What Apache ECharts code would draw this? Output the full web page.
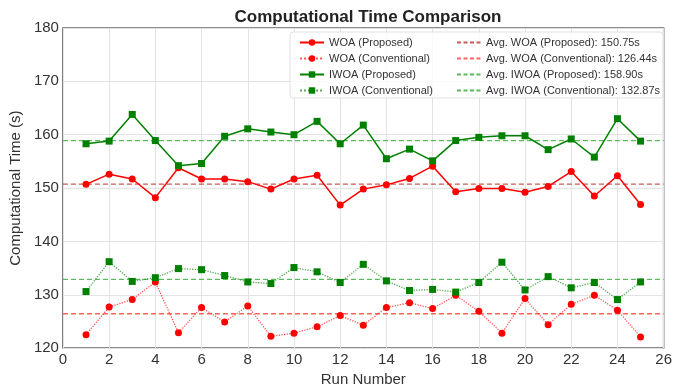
<!DOCTYPE html>
<html>
<head>
<meta charset="utf-8">
<script src="https://cdn.jsdelivr.net/npm/echarts@6/dist/echarts.min.js"></script>
<style>
html, body { margin: 0; padding: 0; background: #fff; }
#chart { width: 675px; height: 392px; }
</style>
</head>
<body>
<div id="chart"></div>
<script>
var runs = [1, 2, 3, 4, 5, 6, 7, 8, 9, 10, 11, 12, 13, 14, 15, 16, 17, 18, 19, 20, 21, 22, 23, 24, 25];

var woaProposed = [150.7, 152.6, 151.7, 148.2, 153.8, 151.7, 151.7, 151.2, 149.8, 151.7, 152.4, 146.8, 149.8,
	150.6, 151.8, 154.1, 149.3, 149.9, 149.9, 149.2, 150.3, 153.1, 148.5, 152.3, 146.9];
var woaConventional = [122.5, 127.7, 129.1, 132.4, 122.9, 127.6, 124.9, 127.9, 122.2, 122.8, 124.0, 126.1, 124.3,
	127.6, 128.5, 127.4, 129.9, 126.9, 122.8, 129.3, 124.4, 128.2, 129.9, 127.1, 122.1];
var iwoaProposed = [158.3, 158.8, 163.8, 158.9, 154.2, 154.6, 159.7, 161.1, 160.5, 160.0, 162.5, 158.3, 161.8,
	155.5, 157.3, 155.1, 158.9, 159.5, 159.8, 159.8, 157.2, 159.2, 155.8, 163.0, 158.8];
var iwoaConventional = [130.6, 136.2, 132.5, 133.2, 134.9, 134.7, 133.6, 132.4, 132.1, 135.1, 134.3, 132.3, 135.7,
	132.6, 130.8, 131.0, 130.5, 132.3, 136.1, 130.9, 133.4, 131.3, 132.3, 129.1, 132.4];

var seriesNames = ['WOA (Proposed)', 'WOA (Conventional)', 'IWOA (Proposed)', 'IWOA (Conventional)'];
var averages = [150.75, 126.44, 158.90, 132.87];
var xRange = [0, 26];

var font = "'Liberation Sans', Arial, sans-serif";

function pairs(values) {
	return runs.map(function (r, i) { return [r, values[i]]; });
}

var avgNames = seriesNames.map(function (n, i) {
	return 'Avg. ' + n + ': ' + averages[i].toFixed(2) + 's';
});

function runSeries(name, values, color, symbol, dotted) {
	return {
		name: name,
		type: 'line',
		data: pairs(values),
		symbol: symbol,
		symbolSize: 7,
		z: 5,
		itemStyle: { color: color },
		lineStyle: { color: color, width: dotted ? 1.3 : 1.5, type: dotted ? 'dotted' : 'solid', opacity: dotted ? 0.65 : 1 },
		emphasis: { disabled: true },
		animation: false
	};
}

// horizontal average line across the whole x range
function avgSeries(name, value, color) {
	return {
		name: name,
		type: 'line',
		data: [[xRange[0], value], [xRange[1], value]],
		symbol: 'none',
		showSymbol: false,
		z: 3,
		itemStyle: { color: color },
		lineStyle: { color: color, width: 1.3, type: [5, 3] },
		emphasis: { disabled: true },
		silent: true,
		animation: false
	};
}

var legendText = { fontFamily: font, fontSize: 11, color: '#333' };

var option = {
	backgroundColor: '#fff',
	animation: false,
	title: {
		text: 'Computational Time Comparison',
		left: 363, textAlign: 'center',
		top: 4,
		textStyle: { fontFamily: font, fontSize: 17, fontWeight: 'bold', color: '#222' }
	},
	grid: {
		left: 60, right: 8, top: 28, bottom: 38,
		show: true, borderColor: '#666', borderWidth: 1.5
	},
	graphic: [{
		type: 'rect',
		z: 3,
		shape: { x: 290, y: 32, width: 373, height: 66, r: 3 },
		style: { fill: 'rgba(255,255,255,0.8)', stroke: '#e0e0e0', lineWidth: 1 }
	}],
	legend: [
		{
			orient: 'vertical', left: 294, top: 32,
			itemWidth: 24, itemHeight: 8, itemGap: 5,
			textStyle: legendText,
			data: seriesNames
		},
		{
			orient: 'vertical', left: 451, top: 32,
			itemWidth: 24, itemHeight: 8, itemGap: 5,
			textStyle: legendText,
			data: avgNames.map(function (n) {
				return { name: n, itemStyle: { opacity: 0 }, lineStyle: { type: [4, 2.5] } };
			})
		}
	],
	xAxis: {
		type: 'value',
		min: xRange[0], max: xRange[1], interval: 2,
		name: 'Run Number',
		nameLocation: 'middle', nameGap: 23,
		nameTextStyle: { fontFamily: font, fontSize: 15, color: '#333' },
		axisLine: { show: false },
		axisTick: { show: false },
		axisLabel: { fontFamily: font, fontSize: 15, color: '#333', margin: 4 },
		splitLine: { show: true, lineStyle: { color: '#e3e3e3', width: 1 } }
	},
	yAxis: {
		type: 'value',
		min: 120, max: 180, interval: 10,
		name: 'Computational Time (s)',
		nameLocation: 'middle', nameGap: 34,
		nameTextStyle: { fontFamily: font, fontSize: 15, color: '#333' },
		axisLine: { show: false },
		axisTick: { show: false },
		axisLabel: { fontFamily: font, fontSize: 15, color: '#333', margin: 4 },
		splitLine: { show: true, lineStyle: { color: '#e3e3e3', width: 1 } }
	},
	series: [
		runSeries(seriesNames[0], woaProposed, '#ff0000', 'circle', false),
		runSeries(seriesNames[1], woaConventional, '#ff0000', 'circle', true),
		runSeries(seriesNames[2], iwoaProposed, '#008000', 'rect', false),
		runSeries(seriesNames[3], iwoaConventional, '#008000', 'rect', true),
		avgSeries(avgNames[0], averages[0], '#c85a5a'),
		avgSeries(avgNames[1], averages[1], '#ff6262'),
		avgSeries(avgNames[2], averages[2], '#5cb85c'),
		avgSeries(avgNames[3], averages[3], '#5cb85c')
	]
};

var myChart = echarts.init(document.getElementById('chart'), null, { renderer: 'canvas' });
myChart.setOption(option);
</script>
</body>
</html>
